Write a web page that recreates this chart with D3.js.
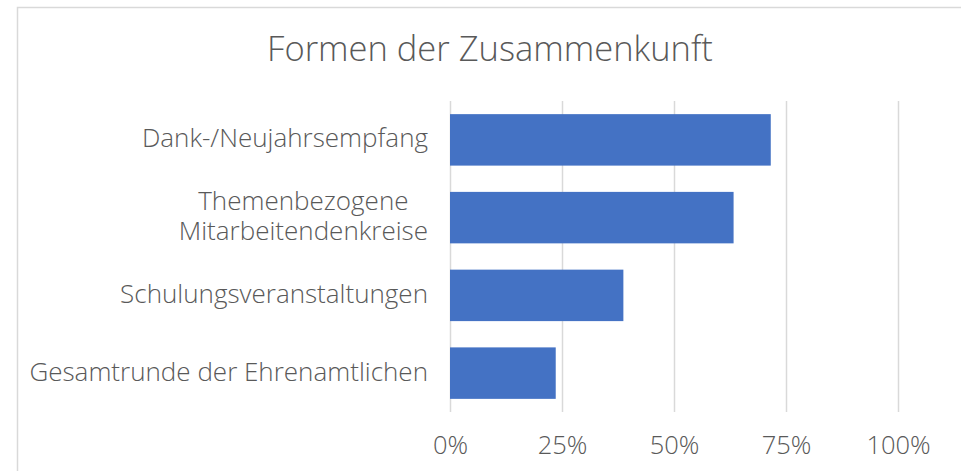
<!DOCTYPE html>
<html>
<head>
<meta charset="utf-8">
<script src="https://cdn.jsdelivr.net/npm/d3@7"></script>
<style>
  body { margin: 0; background: #fff; }
  text { font-family: "Open Sans", Lato, sans-serif; font-weight: 300; fill: #595959; }
</style>
</head>
<body>
<div id="chart"></div>
<script>
// data
var categories = [
  "Dank-/Neujahrsempfang",
  "Themenbezogene Mitarbeitendenkreise",
  "Schulungsveranstaltungen",
  "Gesamtrunde der Ehrenamtlichen"
];
var labelLines = [
  ["Dank-/Neujahrsempfang"],
  ["Themenbezogene", "Mitarbeitendenkreise"],
  ["Schulungsveranstaltungen"],
  ["Gesamtrunde der Ehrenamtlichen"]
];
var shares = [71.6, 63.3, 38.7, 23.6];
var xTicks = [0, 25, 50, 75, 100];

var svgWidth = 961,
    svgHeight = 471;

var margin = { top: 101, left: 450 };
var chartWidth = 448;
var chartHeight = 311;

var svg = d3.select("#chart")
    .append("svg")
    .attr("width", svgWidth)
    .attr("height", svgHeight);

// chart frame
svg.append("rect")
    .attr("x", 17.5)
    .attr("y", 7.5)
    .attr("width", 960)
    .attr("height", 480)
    .attr("fill", "none")
    .attr("stroke", "#d9d9d9")
    .attr("stroke-width", 1.5);

svg.append("text")
    .attr("x", 490)
    .attr("y", 60.5)
    .attr("text-anchor", "middle")
    .style("font-size", "34.5px")
    .text("Formen der Zusammenkunft");

var chartGroup = svg.append("g")
    .attr("transform", `translate(${margin.left}, ${margin.top})`);

var xScale = d3.scaleLinear()
    .domain([0, 100])
    .range([0, chartWidth]);

var yScale = d3.scaleBand()
    .domain(categories)
    .range([0, chartHeight])
    .paddingInner(0.338)
    .paddingOuter(0.169);

// gridlines + tick labels
var bottomAxis = d3.axisBottom(xScale)
    .tickValues(xTicks)
    .tickSize(-chartHeight)
    .tickFormat(d => d + "%");

var xAxis = chartGroup.append("g")
    .attr("transform", "translate(0, " + chartHeight + ")")
    .call(bottomAxis);

xAxis.select(".domain").remove();
xAxis.selectAll(".tick line")
    .attr("stroke", "#d9d9d9")
    .attr("stroke-width", 1.5);
xAxis.selectAll(".tick text")
    .attr("y", 42)
    .attr("dy", null)
    .attr("fill", "#595959")
    .style("font-size", "25.5px")
    .style("font-family", "'Open Sans', Lato, sans-serif");

// bars
chartGroup.selectAll(".bar")
    .data(categories)
    .enter()
    .append("rect")
    .attr("class", "bar")
    .attr("x", xScale(0))
    .attr("y", d => yScale(d))
    .attr("height", yScale.bandwidth())
    .attr("width", (d, i) => xScale(shares[i]))
    .attr("fill", "#4472c4");

// category labels, multi-line ones centred on each other and right-aligned as a block
var labelRight = -22;
var lineHeight = 30;
categories.forEach(function(cat, i) {
    var lines = labelLines[i];
    var cy = yScale(cat) + yScale.bandwidth() / 2;
    var g = chartGroup.append("g");
    var texts = lines.map(function(line, j) {
        return g.append("text")
            .attr("y", cy + 7.5 + (j - (lines.length - 1) / 2) * lineHeight)
            .style("font-size", "26px")
            .text(line);
    });
    var widths = texts.map(t => t.node().getComputedTextLength());
    var maxW = d3.max(widths);
    texts.forEach(function(t) {
        t.attr("text-anchor", "middle").attr("x", labelRight - maxW / 2);
    });
});
</script>
</body>
</html>
